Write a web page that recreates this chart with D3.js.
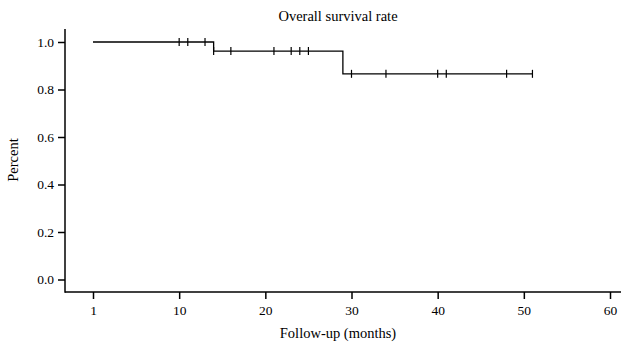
<!DOCTYPE html>
<html>
<head>
<meta charset="utf-8">
<script src="https://cdn.jsdelivr.net/npm/d3@7"></script>
<style>
  body { margin: 0; background: #fff; }
  text { font-family: "Liberation Serif", "DejaVu Serif", serif; fill: #000; }
</style>
</head>
<body>
<div id="chart"></div>
<script>
// step points of the Kaplan-Meier curve (months, survival)
const stepTimes = [0, 14, 29, 51];
const stepSurvival = [1.0, 0.962, 0.866];
// censored observations
const censorTimes = [10, 11, 13, 14, 16, 21, 23, 24, 25, 30, 34, 40, 41, 48, 51];
const xTicks = [0, 10, 20, 30, 40, 50, 60];
const xTickLabels = ['1', '10', '20', '30', '40', '50', '60'];
const yTicks = [0, 0.2, 0.4, 0.6, 0.8, 1.0];

const width = 623, height = 347;

const svg = d3.select('#chart').append('svg')
  .attr('width', width)
  .attr('height', height);

const x = d3.scaleLinear().domain([0, 60]).range([93, 610]);
const y = d3.scaleLinear().domain([0, 1]).range([279.5, 42]);

const axisLeft = 65, axisBottom = 292, axisTop = 29, axisRight = 621;

// axis lines
svg.append('line')
  .attr('x1', axisLeft).attr('x2', axisLeft)
  .attr('y1', axisTop).attr('y2', axisBottom + 0.7)
  .attr('stroke', '#000').attr('stroke-width', 1.5);
svg.append('line')
  .attr('x1', axisLeft).attr('x2', axisRight)
  .attr('y1', axisBottom).attr('y2', axisBottom)
  .attr('stroke', '#000').attr('stroke-width', 1.5);

// y ticks
const yg = svg.append('g').attr('transform', `translate(${axisLeft},0)`)
  .call(d3.axisLeft(y).tickValues(yTicks).tickFormat(d3.format('.1f')).tickSize(7).tickPadding(4));
yg.select('.domain').remove();
yg.selectAll('line').attr('stroke-width', 1.5);
yg.selectAll('text').style('font-size', '13.5px').attr('fill', '#000');

// x ticks
const xg = svg.append('g').attr('transform', `translate(0,${axisBottom})`)
  .call(d3.axisBottom(x).tickValues(xTicks).tickFormat((d, i) => xTickLabels[i]).tickSize(7).tickPadding(6));
xg.select('.domain').remove();
xg.selectAll('line').attr('stroke-width', 1.5);
xg.selectAll('text').style('font-size', '13.5px').attr('fill', '#000');

// survival step line
const pts = [];
stepSurvival.forEach((s, i) => {
  pts.push([stepTimes[i], s]);
  pts.push([stepTimes[i + 1], s]);
});
const line = d3.line().x(d => x(d[0])).y(d => y(d[1])).curve(d3.curveStepAfter);
svg.append('path')
  .datum(pts)
  .attr('d', line)
  .attr('fill', 'none')
  .attr('stroke', '#000')
  .attr('stroke-width', 1.3);

// censor marks
function survAt(t) {
  let s = stepSurvival[0];
  for (let i = 0; i < stepSurvival.length; i++) {
    if (t >= stepTimes[i]) s = stepSurvival[i];
  }
  return s;
}
svg.append('g').selectAll('line')
  .data(censorTimes)
  .enter().append('line')
  .attr('x1', d => x(d)).attr('x2', d => x(d))
  .attr('y1', d => y(survAt(d)) - 4)
  .attr('y2', d => y(survAt(d)) + 4)
  .attr('stroke', '#000')
  .attr('stroke-width', 1.2);

// titles
svg.append('text')
  .attr('x', 338).attr('y', 21)
  .attr('text-anchor', 'middle')
  .style('font-size', '14.5px')
  .text('Overall survival rate');

svg.append('text')
  .attr('x', 338).attr('y', 338)
  .attr('text-anchor', 'middle')
  .style('font-size', '14.5px')
  .text('Follow-up (months)');

svg.append('text')
  .attr('transform', 'translate(18,160) rotate(-90)')
  .attr('text-anchor', 'middle')
  .style('font-size', '14.5px')
  .text('Percent');
</script>
</body>
</html>
